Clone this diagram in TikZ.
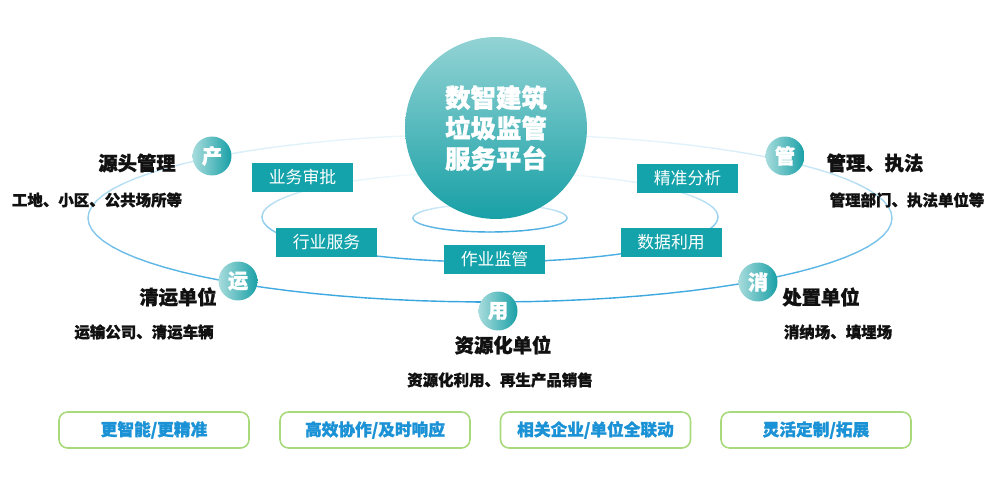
\documentclass[tikz,border=0pt]{standalone}
\usepackage{fontspec}
\setmainfont{Noto Sans CJK SC}[BoldFeatures={FakeBold=1.3}]
\definecolor{tealL}{HTML}{93D3D4}
\definecolor{tealD}{HTML}{18A0A6}
\definecolor{tealB}{HTML}{14A3AA}
\definecolor{lineb}{HTML}{35A4DE}
\definecolor{greenB}{HTML}{A8DA7C}
\definecolor{blueT}{HTML}{1C92D6}
\definecolor{txt}{HTML}{111111}
\tikzset{
  bigc/.style={circle, minimum size=3.64cm, inner sep=0pt, top color=tealL, bottom color=tealD, text=white, font=\bfseries\fontsize{14.5}{17.3}\selectfont, align=center},
  smallc/.style={circle, minimum size=0.78cm, inner sep=0pt, left color=tealL!80!white, right color=tealD, text=white, font=\bfseries\fontsize{11.5}{12}\selectfont},
  tbox/.style={fill=tealB, text=white, minimum width=2.02cm, minimum height=0.58cm, inner sep=0pt, font=\fontsize{9.6}{11}\selectfont},
  gbox/.style={draw=greenB, line width=0.9pt, rounded corners=0.17cm, fill=white, minimum width=3.8cm, minimum height=0.72cm, inner sep=0pt, text=blueT, font=\bfseries\fontsize{9.5}{11}\selectfont},
  ttl/.style={text=txt, inner sep=0pt, font=\bfseries\fontsize{11}{13}\selectfont},
  sublbl/.style={text=txt, inner sep=0pt, font=\bfseries\fontsize{8.8}{11}\selectfont},
  ring/.style={line width=0.8pt, line cap=round}
}
\begin{document}
\begin{tikzpicture}[x=0.02cm,y=-0.02cm]
\useasboundingbox (0,0) rectangle (1000,500);
% outer ellipse
\foreach \a in {0,4,...,356}{
  \pgfmathsetmacro\p{int(55+45*sin(\a+2))}
  \draw[ring, lineb!\p!white] ({490+402*cos(\a)},{218+84*sin(\a)}) -- ({490+402*cos(\a+4)},{218+84*sin(\a+4)});
}
% inner ellipse
\foreach \a in {0,4,...,356}{
  \pgfmathsetmacro\p{int(50+45*sin(\a+2))}
  \draw[ring, lineb!\p!white] ({490+228*cos(\a)},{217+45*sin(\a)}) -- ({490+228*cos(\a+4)},{217+45*sin(\a+4)});
}
% small ellipse under hub
\foreach \a in {0,6,...,354}{
  \pgfmathsetmacro\p{int(55+40*sin(\a+3))}
  \draw[ring, lineb!\p!white] ({490+77*cos(\a)},{218+14*sin(\a)}) -- ({490+77*cos(\a+6)},{218+14*sin(\a+6)});
}
% hub
\node[bigc] (hub) at (496,128) {数智建筑\\垃圾监管\\服务平台};
% stage circles
\node[smallc] (chan) at (212,156) {产};
\node[smallc] (yun) at (238,281) {运};
\node[smallc] (guan) at (785,156) {管};
\node[smallc] (xiao) at (758,282) {消};
\node[smallc] (yong) at (498,311) {用};
% teal boxes
\node[tbox] (b1) at (302.5,177.5) {业务审批};
\node[tbox] (b2) at (326.5,242.5) {行业服务};
\node[tbox] (b3) at (687.5,178.5) {精准分析};
\node[tbox] (b4) at (671,242.5) {数据利用};
\node[tbox] (b5) at (494.5,259.5) {作业监管};
% labels
\node[ttl] (t1) at (137,163) {源头管理};
\node[sublbl] (s1) at (97,200) {工地、小区、公共场所等};
\node[ttl] (t2) at (178,297) {清运单位};
\node[sublbl] (s2) at (144,332) {运输公司、清运车辆};
\node[ttl] (t3) at (875,163) {管理、执法};
\node[sublbl] (s3) at (907,200) {管理部门、执法单位等};
\node[ttl] (t4) at (821,297) {处置单位};
\node[sublbl] (s4) at (838,332) {消纳场、填埋场};
\node[ttl] (t5) at (503,345) {资源化单位};
\node[sublbl] (s5) at (500,380) {资源化利用、再生产品销售};
% bottom boxes
\node[gbox] (g1) at (154,430) {更智能/更精准};
\node[gbox] (g2) at (375,430) {高效协作/及时响应};
\node[gbox] (g3) at (595.5,430) {相关企业/单位全联动};
\node[gbox] (g4) at (816,430) {灵活定制/拓展};
\end{tikzpicture}
\end{document}
